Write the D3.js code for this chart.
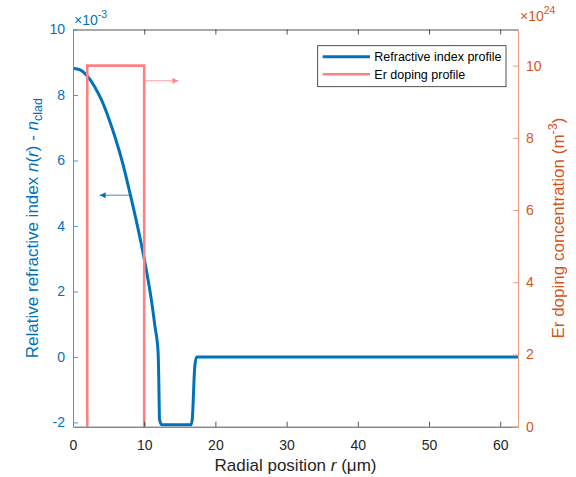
<!doctype html>
<html>
<head>
<meta charset="utf-8">
<style>
    body {
        margin: 0;
        background: #fff;
    }
    text {
        font-family: 'Liberation Sans', Arial, sans-serif;
    }
    .tick text {
        font-size: 14px;
    }
    .label {
        font-size: 17px;
    }
    .legend text {
        font-size: 12.5px;
        fill: #000;
    }
</style>
<script src="https://cdn.jsdelivr.net/npm/d3@7"></script>
</head>
<body>
<svg width="576" height="477"></svg>
<script>
    // refractive index profile, n(r) - n_clad in units of 1e-3
    const radius = [0, 1, 2, 3, 4, 5, 6, 7, 8, 9, 10, 11, 11.5, 11.95, 12.05, 12.15, 12.45, 16.6, 16.75, 17.1, 17.35, 62.5];
    const indexProfile = [8.82, 8.77, 8.58, 8.27, 7.85, 7.3, 6.65, 5.9, 5.0, 4.05, 3.0, 1.75, 0.95, 0.15, -0.7, -1.9, -2.07, -2.07, -1.9, -0.3, 0, 0];

    // Er doping profile, units of 1e24 m^-3
    const dopingRadius = [2, 2, 10, 10];
    const dopingLevel = [0, 10, 10, 0];

    const xTicks = [0, 10, 20, 30, 40, 50, 60];
    const leftTicks = [-2, 0, 2, 4, 6, 8, 10];
    const rightTicks = [0, 2, 4, 6, 8, 10];

    const blue = '#0072BD';
    const orange = '#D95319';
    const pink = '#FF8080';
    const dark = '#262626';

    const svg = d3.select('svg');

    const pLeft = 73, pRight = 518, pTop = 29.5, pBottom = 426.7;

    const x = d3.scaleLinear().domain([0, 62.5]).range([pLeft, pRight]);
    const yL = d3.scaleLinear().domain([-2.13, 10]).range([pBottom, pTop]);
    const yR = d3.scaleLinear().domain([0, 11]).range([pBottom, pTop]);

    svg.append('clipPath')
        .attr('id', 'plot')
        .append('rect')
        .attr('x', pLeft).attr('y', pTop)
        .attr('width', pRight - pLeft).attr('height', pBottom - pTop);

    const indexData = radius.map((r, i) => [r, indexProfile[i]]);
    const dopingData = dopingRadius.map((r, i) => [r, dopingLevel[i]]);

    const lines = svg.append('g').attr('clip-path', 'url(#plot)');

    lines.append('path')
        .datum(indexData)
        .attr('fill', 'none')
        .attr('stroke', blue)
        .attr('stroke-width', 3)
        .attr('stroke-linejoin', 'round')
        .attr('d', d3.line().x(d => x(d[0])).y(d => yL(d[1])).curve(d3.curveMonotoneX));

    lines.append('path')
        .datum(dopingData)
        .attr('fill', 'none')
        .attr('stroke', pink)
        .attr('stroke-width', 2.6)
        .attr('d', d3.line().x(d => x(d[0])).y(d => yR(d[1])));

    // arrows telling which axis each curve belongs to
    const defs = svg.append('defs');
    defs.append('marker')
        .attr('id', 'headBlue')
        .attr('viewBox', '0 0 10 10').attr('refX', 10).attr('refY', 5)
        .attr('markerWidth', 7).attr('markerHeight', 6).attr('markerUnits', 'userSpaceOnUse')
        .attr('orient', 'auto')
        .append('path').attr('d', 'M0,0L10,5L0,10Z').attr('fill', blue);
    defs.append('marker')
        .attr('id', 'headPink')
        .attr('viewBox', '0 0 10 10').attr('refX', 10).attr('refY', 5)
        .attr('markerWidth', 7).attr('markerHeight', 6).attr('markerUnits', 'userSpaceOnUse')
        .attr('orient', 'auto')
        .append('path').attr('d', 'M0,0L10,5L0,10Z').attr('fill', '#FF8A8A');

    svg.append('line')
        .attr('x1', x(7.9)).attr('y1', yL(4.94))
        .attr('x2', x(3.75)).attr('y2', yL(4.94))
        .attr('stroke', '#3d8fd0').attr('stroke-width', 1)
        .attr('marker-end', 'url(#headBlue)');

    svg.append('line')
        .attr('x1', x(10.15)).attr('y1', yR(9.58))
        .attr('x2', x(14.8)).attr('y2', yR(9.58))
        .attr('stroke', '#FFA0A0').attr('stroke-width', 1)
        .attr('marker-end', 'url(#headPink)');

    // axes, ticks pointing inward like MATLAB
    const gx = svg.append('g')
        .attr('transform', `translate(0, ${pBottom})`)
        .call(d3.axisBottom(x).tickValues(xTicks).tickSizeInner(-5).tickSizeOuter(0).tickPadding(13));

    const gt = svg.append('g')
        .attr('transform', `translate(0, ${pTop})`)
        .call(d3.axisTop(x).tickValues(xTicks).tickSizeInner(-5).tickSizeOuter(0).tickFormat(''));

    const gl = svg.append('g')
        .attr('transform', `translate(${pLeft}, 0)`)
        .call(d3.axisLeft(yL).tickValues(leftTicks).tickSizeInner(-5).tickSizeOuter(0).tickPadding(8)
            .tickFormat(d => d < 0 ? '-' + Math.abs(d) : d));

    const gr = svg.append('g')
        .attr('transform', `translate(${pRight}, 0)`)
        .call(d3.axisRight(yR).tickValues(rightTicks).tickSizeInner(-5).tickSizeOuter(0).tickPadding(8));

    [gx, gt].forEach(g => {
        g.select('.domain').attr('stroke', dark).attr('stroke-width', 0.8);
        g.selectAll('.tick line').attr('stroke', dark).attr('stroke-width', 0.8);
        g.selectAll('.tick text').attr('fill', dark);
    });
    gl.select('.domain').attr('stroke', '#4a96d4').attr('stroke-width', 1);
    gl.selectAll('.tick line').attr('stroke', '#4a96d4');
    gl.selectAll('.tick text').attr('fill', blue);
    gr.select('.domain').attr('stroke', '#EC9C80').attr('stroke-width', 1);
    gr.selectAll('.tick line').attr('stroke', '#EC9C80');
    gr.selectAll('.tick text').attr('fill', orange);

    // exponent labels
    const expL = svg.append('text').attr('x', 74).attr('y', 25).attr('fill', blue).attr('font-size', 14);
    expL.append('tspan').text('\u00d710');
    expL.append('tspan').attr('dy', -7).attr('font-size', 10.5).text('-3');

    const expR = svg.append('text').attr('x', 520).attr('y', 20.7).attr('fill', orange).attr('font-size', 14);
    expR.append('tspan').text('\u00d710');
    expR.append('tspan').attr('dy', -7).attr('font-size', 10.5).text('24');

    // axis labels
    const midY = (pTop + pBottom) / 2;

    const xl = svg.append('text')
        .attr('class', 'label')
        .attr('x', (pLeft + pRight) / 2).attr('y', 471)
        .attr('text-anchor', 'middle').attr('fill', dark);
    xl.append('tspan').text('Radial position ');
    xl.append('tspan').attr('font-style', 'italic').text('r');
    xl.append('tspan').text(' (\u03bcm)');

    const ll = svg.append('text')
        .attr('class', 'label')
        .attr('transform', `translate(37.5, ${midY}) rotate(-90)`)
        .attr('text-anchor', 'middle').attr('fill', blue);
    ll.append('tspan').text('Relative refractive index ');
    ll.append('tspan').attr('font-style', 'italic').text('n');
    ll.append('tspan').text('(');
    ll.append('tspan').attr('font-style', 'italic').text('r');
    ll.append('tspan').text(') - ');
    ll.append('tspan').attr('font-style', 'italic').text('n');
    ll.append('tspan').attr('dy', 4).attr('font-size', 12.5).text('clad');

    const rl = svg.append('text')
        .attr('class', 'label')
        .attr('transform', `translate(564, ${midY}) rotate(-90)`)
        .attr('text-anchor', 'middle').attr('fill', orange);
    rl.append('tspan').text('Er doping concentration (m');
    rl.append('tspan').attr('dy', -7).attr('font-size', 12.5).text('-3');
    rl.append('tspan').attr('dy', 7).text(')');

    // legend
    const legend = svg.append('g').attr('class', 'legend');
    legend.append('rect')
        .attr('x', 317.7).attr('y', 45.7).attr('width', 188.3).attr('height', 41)
        .attr('fill', '#fff').attr('stroke', dark).attr('stroke-width', 0.8);
    const entries = [
        { name: 'Refractive index profile', color: blue, width: 3 },
        { name: 'Er doping profile', color: pink, width: 2.6 }
    ];
    entries.forEach((e, i) => {
        const yy = 56.7 + i * 17.6;
        legend.append('line')
            .attr('x1', 322.7).attr('x2', 370).attr('y1', yy).attr('y2', yy)
            .attr('stroke', e.color).attr('stroke-width', e.width);
        legend.append('text')
            .attr('x', 374.3).attr('y', yy + 4.3)
            .text(e.name);
    });
</script>
</body>
</html>
